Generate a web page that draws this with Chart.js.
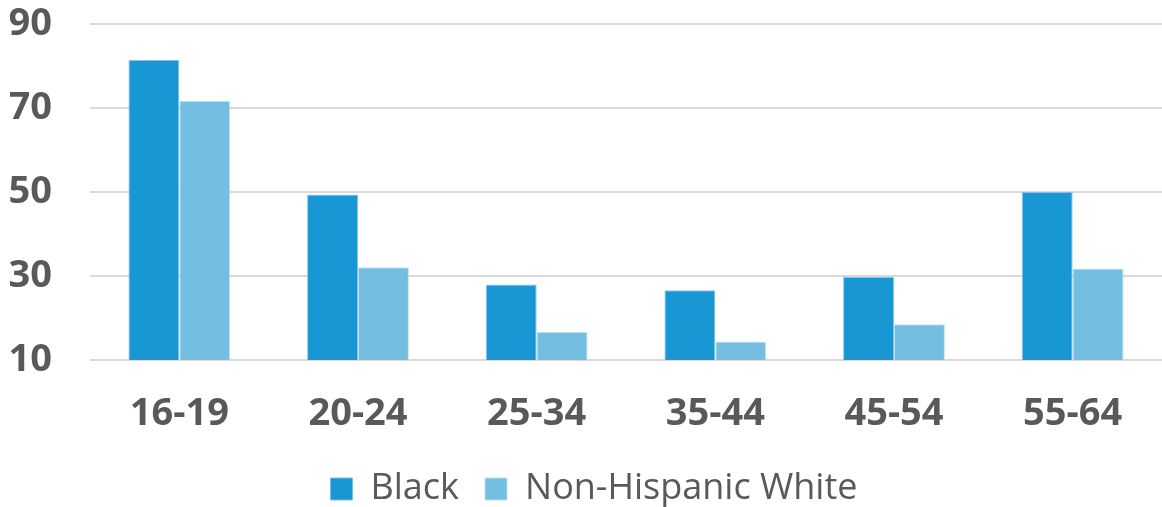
<!DOCTYPE html>
<html>
<head>
<meta charset="utf-8">
<script src="https://cdn.jsdelivr.net/npm/chart.js@4/dist/chart.umd.min.js"></script>
<style>
  html, body { margin: 0; padding: 0; background: #ffffff; }
  #wrap { width: 1162px; height: 507px; position: relative; }
</style>
</head>
<body>
<div id="wrap"><canvas id="chart"></canvas></div>
<script>
// Age groups along the x axis
const categories = ["16-19", "20-24", "25-34", "35-44", "45-54", "55-64"];
// Values per group for each series
const blackValues = [81.4, 49.4, 28.0, 26.6, 29.8, 50.0];
const whiteValues = [71.7, 32.1, 16.7, 14.4, 18.5, 31.8];
const seriesNames = ["Black", "Non-Hispanic White"];
// Value axis range and tick spacing
const yMin = 10, yMax = 90, yStep = 20;

const textColor = "#595959";
const fontFamily = "'Open Sans', 'Noto Sans', sans-serif";

// Nudges the bottom legend a little to the right of the canvas centre
const legendShift = {
  id: "legendShift",
  afterLayout(chart) {
    if (chart.legend) {
      chart.legend.left += 8;
      chart.legend.right += 8;
    }
  }
};

new Chart(document.getElementById("chart"), {
  type: "bar",
  data: {
    labels: categories,
    datasets: [
      {
        label: seriesNames[0],
        data: blackValues,
        backgroundColor: "#1897D4",
        borderColor: "rgba(120,190,230,0.9)",
        borderWidth: 1
      },
      {
        label: seriesNames[1],
        data: whiteValues,
        backgroundColor: "#74BEE1",
        borderColor: "rgba(190,225,242,0.9)",
        borderWidth: 1
      }
    ]
  },
  plugins: [legendShift],
  options: {
    responsive: true,
    maintainAspectRatio: false,
    animation: false,
    layout: { padding: { left: 10, right: 0, top: 4, bottom: -10 } },
    datasets: {
      bar: { barPercentage: 1.0, categoryPercentage: 0.57 }
    },
    scales: {
      x: {
        afterFit: (scale) => { scale.height = 85; },
        grid: { display: false, drawTicks: false },
        border: { display: false },
        ticks: {
          color: textColor,
          padding: 31,
          font: { family: fontFamily, size: 38, weight: "bold" }
        }
      },
      y: {
        min: yMin,
        max: yMax,
        afterFit: (scale) => {
          scale.width = 80;
          scale.paddingTop = 24;
          scale.paddingBottom = 0;
        },
        grid: { color: "#D9D9D9", lineWidth: 2, drawTicks: false },
        border: { display: false },
        ticks: {
          stepSize: yStep,
          color: textColor,
          padding: 38,
          font: { family: fontFamily, size: 38, weight: "bold" }
        }
      }
    },
    plugins: {
      tooltip: { enabled: false },
      legend: {
        position: "bottom",
        labels: {
          color: textColor,
          boxWidth: 22,
          boxHeight: 22,
          padding: 26,
          font: { family: fontFamily, size: 36 }
        }
      }
    }
  }
});
</script>
</body>
</html>
